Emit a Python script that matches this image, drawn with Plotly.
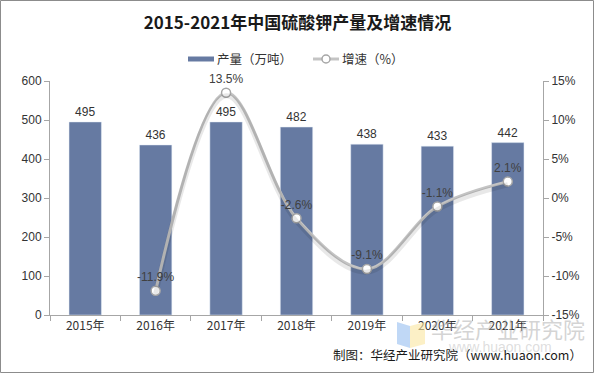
import plotly.graph_objects as go

years = ["2015年", "2016年", "2017年", "2018年", "2019年", "2020年", "2021年"]
output = [495, 436, 495, 482, 438, 433, 442]
growth_x = ["2016年", "2017年", "2018年", "2019年", "2020年", "2021年"]
growth = [-11.9, 13.5, -2.6, -9.1, -1.1, 2.1]
left_ticks = [0, 100, 200, 300, 400, 500, 600]
right_ticks = [-15, -10, -5, 0, 5, 10, 15]

W, H = 595, 374
L, R, T, B = 50, 52, 81, 59
PW, PH = W - L - R, H - T - B


def px(x):
    return (x - L) / PW


def py(y):
    return (H - B - y) / PH


fig = go.Figure()
fig.add_trace(go.Bar(
    x=years, y=output, name="产量（万吨）", marker_color="#667AA2",
    width=0.46, text=[str(v) for v in output], textposition="outside",
    textfont=dict(size=12, color="#333333"), cliponaxis=False,
))
# soft shadow of the growth line
fig.add_trace(go.Scatter(
    x=growth_x, y=growth, yaxis="y3", mode="lines", hoverinfo="skip",
    line=dict(color="rgba(0,0,0,0.09)", width=5, shape="spline", smoothing=1.0),
))
fig.add_trace(go.Scatter(
    x=growth_x, y=growth, name="增速（%）", yaxis="y2", mode="lines+markers+text",
    line=dict(color="#C4C4C4", width=3, shape="spline", smoothing=1.0),
    marker=dict(size=9, color="white", line=dict(color="#A6A6A6", width=1.5)),
    text=[f"{v}%" for v in growth], textposition="top center",
    textfont=dict(size=12, color="#404040"), cliponaxis=False,
))

axis_font = dict(size=12, color="#333333", family="Liberation Sans, Arial, sans-serif")
fig.update_layout(
    width=W, height=H,
    margin=dict(l=L, r=R, t=T, b=B, autoexpand=False),
    paper_bgcolor="white", plot_bgcolor="white",
    font=dict(family="Liberation Sans, Noto Sans CJK SC, sans-serif", color="#333333"),
    title=dict(text="<b>2015-2021年中国硫酸钾产量及增速情况</b>", x=0.5, xanchor="center",
               y=1 - 23 / H, yanchor="middle",
               font=dict(size=17, color="#1a1a1a", family="Noto Sans CJK SC, sans-serif")),
    showlegend=False,
    bargap=0.54,
    xaxis=dict(showgrid=False, showline=True, linecolor="#A6A6A6", linewidth=1,
               ticks="outside", tickcolor="#A6A6A6", ticklen=5, tickson="boundaries",
               tickfont=dict(size=12, color="#333333", family="Noto Sans CJK SC, Liberation Sans, sans-serif"),
               categoryorder="array", categoryarray=years, fixedrange=True),
    yaxis=dict(range=[0, 600], tickvals=left_ticks, showgrid=False, showline=True,
               linecolor="#A6A6A6", ticks="outside", tickcolor="#A6A6A6", ticklen=5,
               tickfont=axis_font, zeroline=False),
    yaxis2=dict(range=[-15, 15], tickvals=right_ticks, ticktext=[f"{v}%" for v in right_ticks],
                overlaying="y", side="right", showgrid=False, showline=True,
                linecolor="#A6A6A6", ticks="outside", tickcolor="#A6A6A6", ticklen=5,
                tickfont=axis_font, zeroline=False),
    yaxis3=dict(range=[-14.6, 15.4], overlaying="y", visible=False),
)

# outer frame
fig.add_shape(type="rect", xref="paper", yref="paper",
              x0=px(0.5), x1=px(W - 1.5), y0=py(H - 1.5), y1=py(0.5),
              line=dict(color="#8C8C8C", width=1), layer="above")

# manual legend
fig.add_shape(type="rect", xref="paper", yref="paper",
              x0=px(188), x1=px(214), y0=py(61.5), y1=py(56.5),
              fillcolor="#667AA2", line=dict(width=0))
fig.add_annotation(text="产量（万吨）", xref="paper", yref="paper", x=px(215), y=py(59),
                   xanchor="left", yanchor="middle", showarrow=False,
                   font=dict(size=12.5, color="#333333", family="Noto Sans CJK SC, sans-serif"))
fig.add_shape(type="line", xref="paper", yref="paper",
              x0=px(313), x1=px(339), y0=py(59), y1=py(59),
              line=dict(color="#C4C4C4", width=3))
fig.add_shape(type="circle", xref="paper", yref="paper",
              x0=px(322), x1=px(330), y0=py(63), y1=py(55),
              fillcolor="white", line=dict(color="#A6A6A6", width=1.5))
fig.add_annotation(text="增速（%）", xref="paper", yref="paper", x=px(340), y=py(59),
                   xanchor="left", yanchor="middle", showarrow=False,
                   font=dict(size=12.5, color="#333333", family="Noto Sans CJK SC, sans-serif"))

# watermark logo shapes (light blue / yellow)
fig.add_shape(type="path", xref="paper", yref="paper",
              path=f"M {px(397)},{py(322)} L {px(410)},{py(326)} L {px(410)},{py(348)} L {px(397)},{py(344)} Z",
              fillcolor="rgba(150,190,240,0.6)", line=dict(width=0))
fig.add_shape(type="path", xref="paper", yref="paper",
              path=f"M {px(410)},{py(326)} L {px(425)},{py(322)} L {px(425)},{py(344)} L {px(410)},{py(348)} Z",
              fillcolor="rgba(250,230,160,0.6)", line=dict(width=0))

fig.add_annotation(text="华经产业研究院", xref="paper", yref="paper", x=px(508), y=py(328),
                   xanchor="center", yanchor="middle",
                   showarrow=False, font=dict(size=22, color="rgba(170,170,170,0.5)",
                                              family="Noto Sans CJK SC, sans-serif"))
fig.add_annotation(text="www.huaon.com", xref="paper", yref="paper", x=px(500), y=py(347),
                   xanchor="center", yanchor="middle",
                   showarrow=False, font=dict(size=14, color="rgba(170,170,170,0.4)",
                                              family="Liberation Sans, sans-serif"))
fig.add_annotation(text="制图：华经产业研究院（www.huaon.com）", xref="paper", yref="paper",
                   x=px(584), y=py(354), xanchor="right", yanchor="middle", showarrow=False,
                   font=dict(size=12.5, color="#1a1a1a", family="Noto Sans CJK SC, sans-serif"))

fig.write_html("out.html", config={"displayModeBar": False},
               post_script="document.body.style.margin='0px';document.body.style.padding='0px';")
